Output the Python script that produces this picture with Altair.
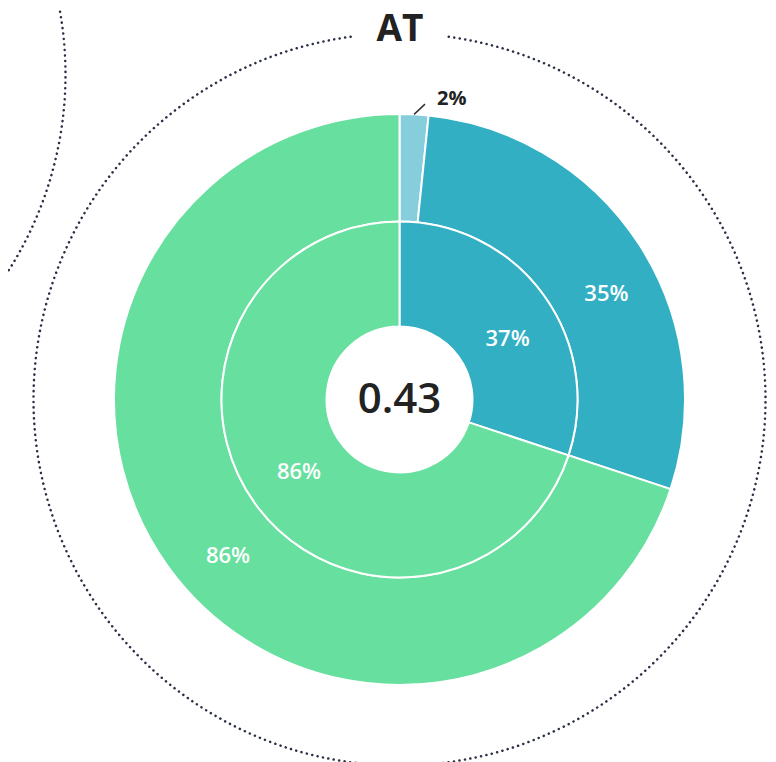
import math
import altair as alt
import pandas as pd

# ---- data ----
title_text = "AT"
center_value = "0.43"

outer_categories = ["light", "teal", "green"]
outer_values = [2, 35, 86]
outer_labels = ["2%", "35%", "86%"]

inner_categories = ["teal", "green"]
inner_values = [37, 86]
inner_labels = ["37%", "86%"]

color_domain = ["light", "teal", "green"]
color_range = ["#87CEDC", "#33AFC4", "#67DF9F"]

# ---- layout constants ----
W, H = 760, 754
CX, CY = 391.5, 391.5
R_OUT, R_MID, R_IN = 285.5, 178, 73
R_RING = 366
DOT_COLOR = "#2A2F45"
FONT = "Open Sans"

# per-label angular nudges (radians), matching the reference placement
outer_label_nudge = [0.0, 0.105, -0.113]
inner_label_nudge = [0.113, 0.0]

outer_df = pd.DataFrame({
    "category": outer_categories,
    "value": outer_values,
    "label": outer_labels,
    "order": list(range(len(outer_values))),
})
inner_df = pd.DataFrame({
    "category": inner_categories,
    "value": inner_values,
    "label": inner_labels,
    "order": list(range(len(inner_values))),
})

color = alt.Color("category:N", scale=alt.Scale(domain=color_domain, range=color_range), legend=None)
theta = alt.Theta("value:Q", stack=True)
order = alt.Order("order:Q", sort="ascending")
pos = dict(x=alt.value(CX), y=alt.value(CY))

blank = alt.Data(values=[{}])

ring_style = dict(
    theta=0, theta2=2 * math.pi, radius=R_RING, radius2=0,
    fillOpacity=0, stroke=DOT_COLOR, strokeWidth=2.5,
    strokeDash=[0.1, 5.4], strokeCap="round",
)
ring_main = alt.Chart(blank).mark_arc(**ring_style).encode(**pos)
ring_neighbor = alt.Chart(blank).mark_arc(**ring_style).encode(
    x=alt.value(CX - 700), y=alt.value(CY - 325)
)

# white knockout behind the title
knockout = alt.Chart(blank).mark_arc(
    theta=2 * math.pi - 0.13, theta2=2 * math.pi + 0.13,
    radius=R_RING + 8, radius2=R_RING - 8, fill="white",
).encode(**pos)

outer_arcs = alt.Chart(outer_df).mark_arc(
    radius=R_OUT, radius2=R_MID, stroke="white", strokeWidth=2,
).encode(theta=theta, color=color, order=order, **pos)

inner_arcs = alt.Chart(inner_df).mark_arc(
    radius=R_MID, radius2=R_IN, stroke="white", strokeWidth=2,
).encode(theta=theta, color=color, order=order, **pos)


def ring_label(df, idx, radius, nudge):
    return alt.Chart(df).mark_text(
        radius=radius, thetaOffset=nudge, font=FONT, fontSize=22, fontWeight=600,
        color="white", align="center", baseline="middle",
    ).encode(
        theta=theta, order=order,
        text=alt.Text("label:N"),
        opacity=alt.condition(f"datum.order == {idx}", alt.value(1), alt.value(0)),
        **pos,
    )


label_layers = []
for i in range(1, len(outer_values)):
    label_layers.append(ring_label(outer_df, i, 232, outer_label_nudge[i]))
for i in range(len(inner_values)):
    label_layers.append(ring_label(inner_df, i, 124, inner_label_nudge[i]))

# leader line and outside label for the small first outer slice
leader_base = alt.Chart(outer_df).transform_joinaggregate(
    total="sum(value)"
).transform_window(
    cum="sum(value)", sort=[alt.SortField("order")]
).transform_calculate(
    mid="(datum.cum - datum.value / 2) / datum.total * 2 * PI",
).transform_filter("datum.order == 0").transform_calculate(
    x1=f"{CX} + {R_OUT} * sin(datum.mid)",
    y1=f"{CY} - {R_OUT} * cos(datum.mid)",
    x2=f"{CX} + {R_OUT + 11} * sin(datum.mid + 0.035)",
    y2=f"{CY} - {R_OUT + 11} * cos(datum.mid + 0.035)",
)

leader = leader_base.mark_rule(color="#333333", strokeWidth=1.5).encode(
    x=alt.X("x1:Q", scale=None), y=alt.Y("y1:Q", scale=None),
    x2="x2:Q", y2="y2:Q",
)
leader_label = leader_base.mark_text(
    font=FONT, fontSize=20, fontWeight="bold", color="#222222",
    align="left", baseline="middle", dx=12, dy=-5,
).encode(
    x=alt.X("x2:Q", scale=None), y=alt.Y("y2:Q", scale=None),
    text="label:N",
)

center_text = alt.Chart(alt.Data(values=[{"t": center_value}])).mark_text(
    font=FONT, fontSize=42, fontWeight=600, color="#222222",
    align="center", baseline="middle",
).encode(text="t:N", x=alt.value(CX), y=alt.value(CY))

title = alt.Chart(alt.Data(values=[{"t": title_text}])).mark_text(
    font=FONT, fontSize=37, fontWeight="bold", color="#222222",
    align="center", baseline="middle",
).encode(text="t:N", x=alt.value(CX + 0.5), y=alt.value(CY - R_RING - 4))

chart = alt.layer(
    ring_main, ring_neighbor, knockout,
    outer_arcs, inner_arcs, *label_layers,
    leader, leader_label, center_text, title,
).properties(
    width=W, height=H,
    autosize=alt.AutoSizeParams(type="none"),
    padding=0,
).configure_view(stroke=None)

chart.save("out.html", embed_options={"renderer": "svg", "actions": False})
